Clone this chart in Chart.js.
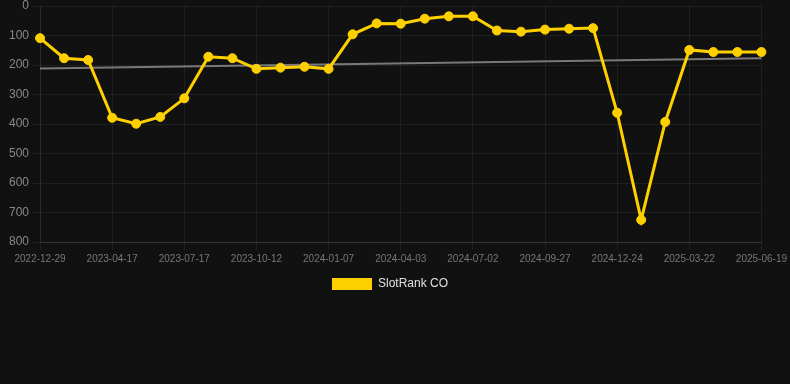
<!DOCTYPE html>
<html>
<head>
<meta charset="utf-8">
<script src="https://cdn.jsdelivr.net/npm/chart.js@4"></script>
<style>
  html, body { margin: 0; padding: 0; background: #111111; }
  #wrap { position: relative; width: 790px; height: 300px; }
</style>
</head>
<body>
<div id="wrap"><canvas id="c"></canvas></div>
<script>
const categories = [
  "2022-12-29","2023-02-04","2023-03-12","2023-04-17","2023-05-17","2023-06-16",
  "2023-07-17","2023-08-15","2023-09-13","2023-10-12","2023-11-10","2023-12-09",
  "2024-01-07","2024-02-05","2024-03-05","2024-04-03","2024-05-03","2024-06-02",
  "2024-07-02","2024-07-31","2024-08-29","2024-09-27","2024-10-26","2024-11-24",
  "2024-12-24","2025-01-22","2025-02-20","2025-03-22","2025-04-21","2025-05-20",
  "2025-06-19"
];
const rankValues = [
  109, 177, 183, 379, 399, 376, 313, 172, 177, 213,
  209, 206, 213, 96, 59, 60, 43, 35, 35, 83,
  87, 80, 77, 75, 362, 725, 393, 149, 156, 156,
  156
];
const trendValues = [212, 177];
const yTicks = [0, 100, 200, 300, 400, 500, 600, 700, 800];
const seriesName = "SlotRank CO";

const yellow = "#ffd000";
const trendData = [
  { x: categories[0], y: trendValues[0] },
  { x: categories[categories.length - 1], y: trendValues[1] }
];

const legendShift = {
  id: "legendShift",
  afterLayout(chart) {
    if (chart.legend) { chart.legend.left -= 6; chart.legend.right -= 6; }
  }
};

new Chart(document.getElementById("c"), {
  type: "line",
  plugins: [legendShift],
  data: {
    labels: categories,
    datasets: [
      {
        label: seriesName,
        data: rankValues,
        borderColor: yellow,
        backgroundColor: yellow,
        pointBackgroundColor: yellow,
        pointBorderColor: yellow,
        borderWidth: 3,
        pointRadius: 4.5,
        pointBorderWidth: 1,
        tension: 0,
        order: 1
      },
      {
        label: "trend",
        data: trendData,
        borderColor: "rgba(140,140,140,0.85)",
        borderWidth: 2,
        pointRadius: 0,
        tension: 0,
        order: 2
      }
    ]
  },
  options: {
    responsive: true,
    maintainAspectRatio: false,
    animation: false,
    layout: { padding: { left: 6, right: 4, top: 0 } },
    plugins: {
      legend: {
        position: "bottom",
        labels: {
          color: "#e0e0e0",
          boxWidth: 40,
          boxHeight: 12,
          font: { family: "Liberation Sans, Arial, sans-serif", size: 12 },
          generateLabels: (chart) =>
            Chart.defaults.plugins.legend.labels.generateLabels(chart)
              .filter(item => item.text === seriesName)
              .map(item => Object.assign(item, { lineWidth: 0, strokeStyle: "rgba(0,0,0,0)" }))
        }
      },
      tooltip: { enabled: false }
    },
    scales: {
      x: {
        grid: { color: "rgba(255,255,255,0.06)", tickLength: 8 },
        border: { color: "rgba(255,255,255,0.1)" },
        ticks: {
          color: "#777777",
          font: { family: "Liberation Sans, Arial, sans-serif", size: 10 },
          maxRotation: 0,
          autoSkip: true,
          maxTicksLimit: 11
        }
      },
      y: {
        reverse: true,
        min: yTicks[0],
        max: yTicks[yTicks.length - 1],
        grid: { color: "rgba(255,255,255,0.06)", tickLength: 8 },
        border: { color: "rgba(255,255,255,0.06)" },
        afterBuildTicks: (axis) => { axis.ticks = yTicks.map(v => ({ value: v })); },
        afterFit: (scale) => { scale.paddingTop = 6; },
        ticks: {
          color: "#888888",
          font: { family: "Liberation Sans, Arial, sans-serif", size: 12 }
        }
      }
    }
  }
});
</script>
</body>
</html>
